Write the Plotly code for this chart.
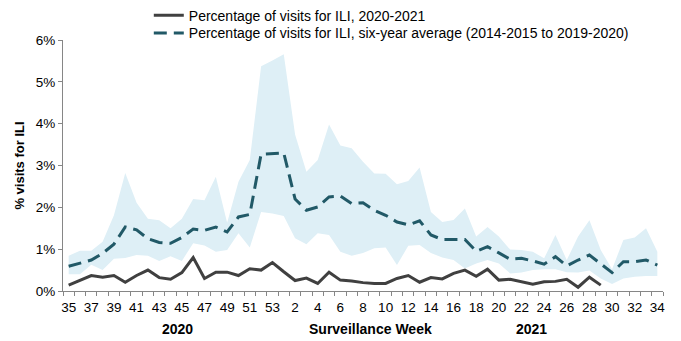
import plotly.graph_objects as go

weeks = list(range(35, 54)) + list(range(1, 35))

current = [0.14, 0.25, 0.37, 0.33, 0.37, 0.21, 0.37, 0.50, 0.32, 0.28,
           0.44, 0.80, 0.30, 0.45, 0.45, 0.37, 0.53, 0.50, 0.68,
           0.46, 0.25, 0.31, 0.18, 0.45, 0.26, 0.24, 0.20, 0.18, 0.18, 0.30,
           0.37, 0.21, 0.32, 0.29, 0.42, 0.50, 0.35, 0.52, 0.26, 0.28,
           0.22, 0.16, 0.22, 0.23, 0.28, 0.09, 0.33, 0.14]

average = [0.59, 0.66, 0.74, 0.90, 1.12, 1.53, 1.46, 1.25, 1.16, 1.14,
           1.28, 1.48, 1.45, 1.53, 1.41, 1.77, 1.83, 3.27, 3.29,
           3.30, 2.20, 1.93, 2.01, 2.25, 2.27, 2.09, 2.11, 1.93, 1.81, 1.65,
           1.58, 1.68, 1.34, 1.23, 1.23, 1.23, 0.95, 1.06, 0.91, 0.76,
           0.78, 0.72, 0.64, 0.82, 0.60, 0.74, 0.86, 0.66, 0.44, 0.70, 0.70, 0.74, 0.62]

upper = [0.84, 0.96, 0.96, 1.18, 1.81, 2.82, 2.11, 1.73, 1.69, 1.50,
         1.73, 2.20, 2.17, 2.73, 1.63, 2.61, 3.13, 5.37, 5.51,
         5.66, 3.74, 2.85, 3.13, 3.98, 3.48, 3.41, 3.09, 2.81, 2.80, 2.55,
         2.63, 2.95, 1.89, 1.65, 1.70, 1.97, 1.30, 1.53, 1.30, 0.99,
         0.98, 0.94, 0.78, 1.34, 0.74, 1.30, 1.69, 0.98, 0.52, 1.22, 1.28, 1.50, 0.94]

lower = [0.40, 0.40, 0.63, 0.50, 0.77, 0.79, 0.86, 0.84, 0.72, 0.83,
         0.72, 1.14, 1.09, 0.94, 0.98, 1.38, 1.04, 1.89, 1.85,
         1.79, 1.26, 1.12, 1.38, 1.34, 0.94, 0.84, 0.91, 1.02, 1.04, 0.62,
         1.08, 1.10, 0.91, 0.80, 0.74, 0.54, 0.66, 0.74, 0.66, 0.42,
         0.44, 0.50, 0.52, 0.52, 0.45, 0.44, 0.49, 0.30, 0.17, 0.30, 0.34, 0.36, 0.36]

year_labels = ["2020", "Surveillance Week", "2021"]
year_label_pos = [9.6, 26.7, 40.9]

x = list(range(len(weeks)))
tick_idx = x[::2]
tick_txt = [str(weeks[i]) for i in tick_idx]

FONT = "Liberation Sans, Arial, sans-serif"
BAND = "rgb(222,239,246)"
TEAL = "rgb(33,89,103)"
GREY = "rgb(64,64,64)"
AXIS = "rgb(134,134,134)"

fig = go.Figure()
fig.add_trace(go.Scatter(x=x, y=lower, mode="lines", line=dict(width=0, color=BAND),
                         showlegend=False, hoverinfo="skip"))
fig.add_trace(go.Scatter(x=x, y=upper, mode="lines", line=dict(width=0, color=BAND),
                         fill="tonexty", fillcolor=BAND, showlegend=False, hoverinfo="skip"))
fig.add_trace(go.Scatter(x=x[:len(current)], y=current, mode="lines",
                         line=dict(color=GREY, width=3), legend="legend",
                         name="Percentage of visits for ILI, 2020-2021"))
fig.add_trace(go.Scatter(x=x, y=average, mode="lines",
                         line=dict(color=TEAL, width=3, dash="13px,7px"), legend="legend2",
                         name="Percentage of visits for ILI, six-year average (2014-2015 to 2019-2020)"))

for lab, pos in zip(year_labels, year_label_pos):
    fig.add_annotation(x=pos, y=-0.151, xref="x", yref="paper", text="<b>%s</b>" % lab,
                       showarrow=False, yanchor="middle", xanchor="center",
                       font=dict(family=FONT, size=14, color="black"))

leg_common = dict(xanchor="left", yanchor="top", bgcolor="rgba(0,0,0,0)",
                  font=dict(family=FONT, size=14), itemwidth=30)

fig.update_layout(
    width=681, height=341,
    margin=dict(l=63, r=18, t=39.5, b=50, autoexpand=False),
    paper_bgcolor="white", plot_bgcolor="white",
    font=dict(family=FONT, size=13, color="black"),
    showlegend=True,
    legend=dict(x=0.143, y=1.161, **leg_common),
    legend2=dict(x=0.143, y=1.090, **leg_common),
    xaxis=dict(range=[-0.5, len(weeks) - 0.5], tickmode="array", tickvals=tick_idx,
               ticktext=tick_txt, ticks="outside", ticklen=4, tickcolor="rgba(0,0,0,0)",
               showgrid=False, zeroline=False, showline=True, linecolor=AXIS, linewidth=1,
               tickfont=dict(family=FONT, size=13.5),
               minor=dict(tickmode="linear", tick0=-0.5, dtick=1, ticks="outside",
                          ticklen=4, tickcolor=AXIS, showgrid=False)),
    yaxis=dict(range=[0, 6], dtick=1, ticksuffix="%", ticks="outside", ticklen=4,
               tickcolor=AXIS, showgrid=False, zeroline=False, showline=True,
               linecolor=AXIS, linewidth=1, tickfont=dict(family=FONT, size=13.5),
               title=dict(text="<b>% visits for ILI</b>", font=dict(family=FONT, size=13),
                          standoff=8)),
)

fig.write_html("out.html")
